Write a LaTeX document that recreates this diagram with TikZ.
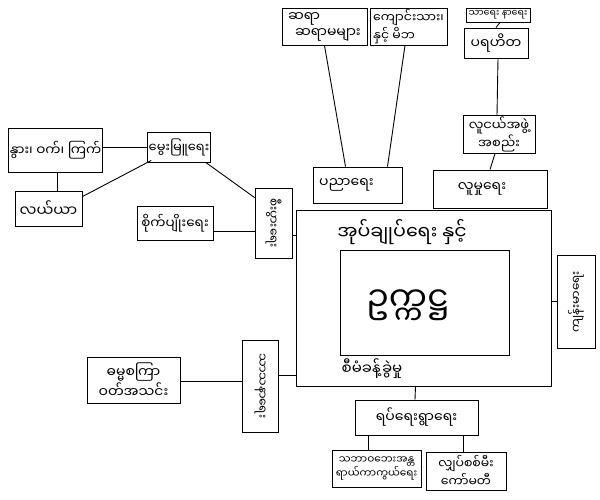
\documentclass[tikz,border=0pt]{standalone}
\usepackage{fontspec}
\newfontfamily\my[Script=Myanmar]{Noto Sans Myanmar UI}
\newcommand{\fs}[1]{\fontsize{#1}{#1}\selectfont}
\begin{document}
\begin{tikzpicture}[x=1pt,y=-1pt,
  bx/.style={draw=black, line width=0.9pt, inner sep=1pt, font=\my\fs{13}, align=center},
  lbl/.style={inner sep=0pt, font=\my},
  ln/.style={draw=black, line width=0.9pt}]
\useasboundingbox (0,0) rectangle (600,500);
% top
\node[bx, minimum width=85, minimum height=37, align=left, font=\my\fontsize{14}{16}\selectfont] (tea) at (324.5,26.5) {ဆရာ\\\enspace ဆရာမများ};
\node[bx, minimum width=77, minimum height=37, align=left, font=\my\fontsize{12.5}{16}\selectfont] (stu) at (408.5,26.5) {ကျောင်းသား၊\\နှင့် မိဘ};
\node[bx, minimum width=64, minimum height=14, inner sep=0pt, font=\my\fs{9.5}] (joy) at (498,15) {သာရေး နာရေး};
\node[bx, minimum width=64, minimum height=30, font=\my\fs{14}] (cha) at (496,43) {ပရဟိတ};
\node[bx, minimum width=72, minimum height=35, font=\my\fontsize{13}{15}\selectfont] (you) at (499,134.5) {လူငယ်အဖွဲ့\\အစည်း};
\node[bx, minimum width=114, minimum height=38, font=\my\fs{14}] (soc) at (490,189) {လူမှုရေး\hspace{16pt}};
\node[bx, minimum width=89, minimum height=36, font=\my\fs{14}] (edu) at (357.5,185) {ပညာရေး\hspace{22pt}};
% centre
\node[bx, minimum width=255, minimum height=176] (adm) at (423.5,298) {};
\node[bx, minimum width=169, minimum height=105] (chr) at (424.5,302.5) {};
\node[lbl, font=\my\fs{34}] (chrt) at (408,305) {ဥက္ကဋ္ဌ};
\node[lbl, font=\my\fs{19}] (admt) at (402,232) {အုပ်ချုပ်ရေး နှင့်};
\node[lbl, font=\my\fs{15}] (mgt) at (372,369) {စီမံခန့်ခွဲမှု};
% sides
\node[bx, minimum width=38, minimum height=93] (hea) at (576,301.5) {};
\node[lbl, rotate=90, font=\my\fs{12}] (heat) at (hea.center) {ကျန်းမာရေး};
\node[bx, minimum width=37, minimum height=70] (eco) at (273.5,223) {};
\node[lbl, rotate=-90, font=\my\fs{12}] (ecot) at (eco.center) {စီးပွားရေး};
\node[bx, minimum width=76, minimum height=34, font=\my\fs{13.5}] (agr) at (175,223) {စိုက်ပျိုးရေး};
\node[bx, minimum width=62, minimum height=30] (bre) at (179,147) {မွေးမြူရေး};
\node[bx, minimum width=81, minimum height=44, font=\my\fs{13.5}] (cat) at (55.5,150) {နွား၊ ဝက်၊ ကြက်};
\node[bx, minimum width=67, minimum height=35, font=\my\fs{15}] (far) at (48.5,208.5) {လယ်ယာ};
\node[bx, minimum width=36, minimum height=92] (rel) at (260,386) {};
\node[lbl, rotate=-90, font=\my\fs{12}] (relt) at (rel.center) {သာသနာရေး};
\node[bx, minimum width=93, minimum height=46, font=\my\fontsize{14}{17}\selectfont] (dha) at (133.5,380) {ဓမ္မစကြာ\\ဝတ်အသင်း};
% bottom
\node[bx, minimum width=123, minimum height=35, font=\my\fs{14}] (vil) at (416.5,417.5) {ရပ်ရေးရွာရေး};
\node[bx, minimum width=89, minimum height=37, inner sep=0pt, font=\my\fontsize{10.5}{14}\selectfont] (dis) at (376.5,468.5) {သဘာဝဘေးအန္တ\\ရာယ်ကာကွယ်ရေး};
\node[bx, minimum width=80, minimum height=38, font=\my\fontsize{12.5}{16}\selectfont] (ele) at (466,471) {လျှပ်စစ်မီး\\ကော်မတီ};
% connectors
\draw[ln] (tea.south) -- ([xshift=-12]edu.north);
\draw[ln] ([xshift=-3.5]stu.south) -- ([xshift=30]edu.north);
\draw[ln] ([xshift=2]joy.south) -- (cha.north);
\draw[ln] ([xshift=2]cha.south) -- ([xshift=-2]you.north);
\draw[ln] ([xshift=-4]you.south) -- (soc.north);
\draw[ln] ([yshift=3]cat.east) -- (bre.west);
\draw[ln] ([xshift=1.5]cat.south) -- ([xshift=8.5]far.north);
\draw[ln] ([yshift=-6]far.north east) -- ([xshift=4,yshift=2]bre.south west);
\draw[ln] ([xshift=-5]bre.south east) -- ([yshift=-10]eco.north west);
\draw[ln] ([yshift=-8]agr.east) -- ([yshift=-8]agr.east -| eco.west);
\draw[ln] ([yshift=-12]eco.east) -- ([yshift=-12]eco.east -| adm.west);
\draw[ln] (hea.west) -- (hea.west -| adm.east);
\draw[ln] ([yshift=11]rel.east) -- ([yshift=11]rel.east -| adm.west);
\draw[ln] ([yshift=5]rel.west) -- ([yshift=5]rel.west -| dha.east);
\draw[ln] ([xshift=-8]adm.south) -- ([xshift=-1.5]vil.north);
\draw[ln] ([xshift=-48.5]vil.south) -- ([xshift=-8.5]dis.north);
\draw[ln] ([xshift=46.5]vil.south) -- ([xshift=-3]ele.north);
\end{tikzpicture}
\end{document}
